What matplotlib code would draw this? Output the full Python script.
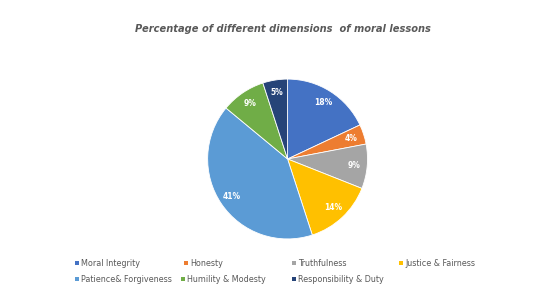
import matplotlib
matplotlib.use("Agg")
import matplotlib.pyplot as plt
from matplotlib.patches import Rectangle
import numpy as np

categories = ["Moral Integrity", "Honesty", "Truthfulness", "Justice & Fairness",
              "Patience& Forgiveness", "Humility & Modesty", "Responsibility & Duty"]
values = [18, 4, 9, 14, 41, 9, 5]
labels = ["18%", "4%", "9%", "14%", "41%", "9%", "5%"]
colors = ["#4472C4", "#ED7D31", "#A5A5A5", "#FFC000", "#5B9BD5", "#70AD47", "#264478"]

W, H = 552, 295
fig = plt.figure(figsize=(W / 100, H / 100), dpi=100)
fig.patch.set_facecolor("white")

fig.text(283 / W, 1 - 29 / H, "Percentage of different dimensions  of moral lessons",
         ha="center", va="center", fontsize=7.1, fontstyle="italic", fontweight="bold",
         color="#595959")

ax = fig.add_axes([0.340, 0.122, 0.362, 0.678])
wedges, texts = ax.pie(values, colors=colors, startangle=90, counterclock=False,
                       wedgeprops=dict(edgecolor="white", linewidth=0.6))
ax.set_aspect("equal")
for w, lab in zip(wedges, labels):
    ang = np.deg2rad((w.theta1 + w.theta2) / 2)
    ax.text(0.84 * np.cos(ang), 0.84 * np.sin(ang), lab, ha="center", va="center",
            fontsize=5.5, color="white", fontweight="bold")

# legend laid out like the reference (row-wise, uneven column positions)
leg_pos = [(77, 263), (186, 263), (294, 263), (401, 263),
           (77, 279), (183, 279), (294, 279)]
sq = 4
for (x, y), c, name in zip(leg_pos, colors, categories):
    fig.add_artist(Rectangle(((x - sq / 2) / W, 1 - (y + sq / 2) / H), sq / W, sq / H,
                             transform=fig.transFigure, facecolor=c, edgecolor="none"))
    fig.text((x + 4) / W, 1 - y / H, name, ha="left", va="center", fontsize=5.8,
             color="#595959")

plt.savefig("out.png", dpi=100, facecolor="white")
